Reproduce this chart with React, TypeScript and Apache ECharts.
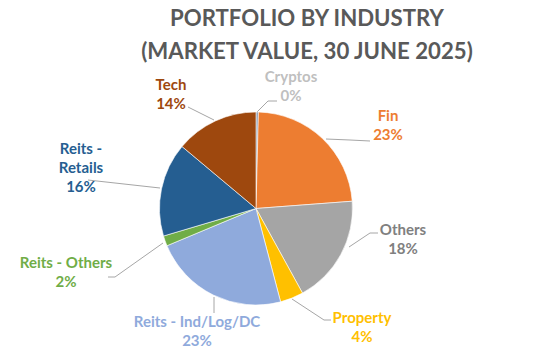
import React, { useEffect, useRef } from "react";
import * as echarts from "echarts";

const categories = [
  "Cryptos",
  "Fin",
  "Others",
  "Property",
  "Reits - Ind/Log/DC",
  "Reits - Others",
  "Reits -\nRetails",
  "Tech",
];
const values = [0.4, 23.4, 18.2, 3.9, 22.8, 1.7, 15.7, 13.9];
const sliceColors = ["#8497B0", "#ED7D31", "#A5A5A5", "#FFC000", "#8FAADC", "#70AD47", "#255E91", "#9E480E"];
const labelColors = ["#BFBFBF", "#ED7D31", "#808080", "#FFC000", "#8FAADC", "#70AD47", "#255E91", "#9E480E"];
const labelPos = [
  [291, 85],
  [388, 124],
  [403, 238],
  [362, 326],
  [197, 330],
  [66, 271],
  [81, 167],
  [171, 93],
];
const leaderLines = [
  [[257, 112], [268, 101], [277, 101]],
  [[326, 139], [350, 140], [370, 141]],
  [[349, 247], [370, 233], [378, 233]],
  [[292, 299], [324, 320], [331, 320]],
  [[214, 297], [214, 305], [214, 313]],
  [[163, 243], [115, 277], [108, 277]],
  [[160, 188], [124, 184], [88, 180]],
  [[214, 120], [200, 113], [188, 107]],
];

export default function App() {
  const ref = useRef<HTMLDivElement>(null);
  useEffect(() => {
    document.body.style.margin = "0";
    const chart = echarts.init(ref.current!, null, { renderer: "svg" });
    const font = "Lato, 'Open Sans', sans-serif";
    chart.setOption({
      animation: false,
      backgroundColor: "#ffffff",
      title: {
        text: "PORTFOLIO BY INDUSTRY\n(MARKET VALUE, 30 JUNE 2025)",
        left: 302,
        top: -4,
        textAlign: "center",
        textStyle: {
          fontFamily: font,
          fontWeight: "bold",
          fontSize: 22.2,
          lineHeight: 33,
          color: "#595959",
        },
      },
      series: [
        {
          type: "pie",
          center: [256, 208.5],
          radius: [0, 96.5],
          startAngle: 90,
          clockwise: true,
          avoidLabelOverlap: false,
          itemStyle: { borderColor: "#ffffff", borderWidth: 0.6 },
          label: {
            show: true,
            position: "outside",
            fontFamily: font,
            fontWeight: "bold",
            fontSize: 15,
            lineHeight: 19,
            align: "center",
            formatter: (p: any) => `${p.name}\n${Math.round(p.percent)}%`,
          },
          labelLine: {
            show: true,
            length: 10,
            length2: 8,
            lineStyle: { color: "#A6A6A6", width: 1 },
          },
          labelLayout: (params: any) => {
            const p = labelPos[params.dataIndex];
            return {
              x: p[0],
              y: p[1],
              align: "center",
              verticalAlign: "middle",
              labelLinePoints: leaderLines[params.dataIndex],
            };
          },
          data: categories.map((name, i) => ({
            name,
            value: values[i],
            itemStyle: { color: sliceColors[i] },
            label: { color: labelColors[i] },
          })),
        },
      ],
    });
    return () => chart.dispose();
  }, []);
  return <div ref={ref} style={{ width: 552, height: 356 }} />;
}
